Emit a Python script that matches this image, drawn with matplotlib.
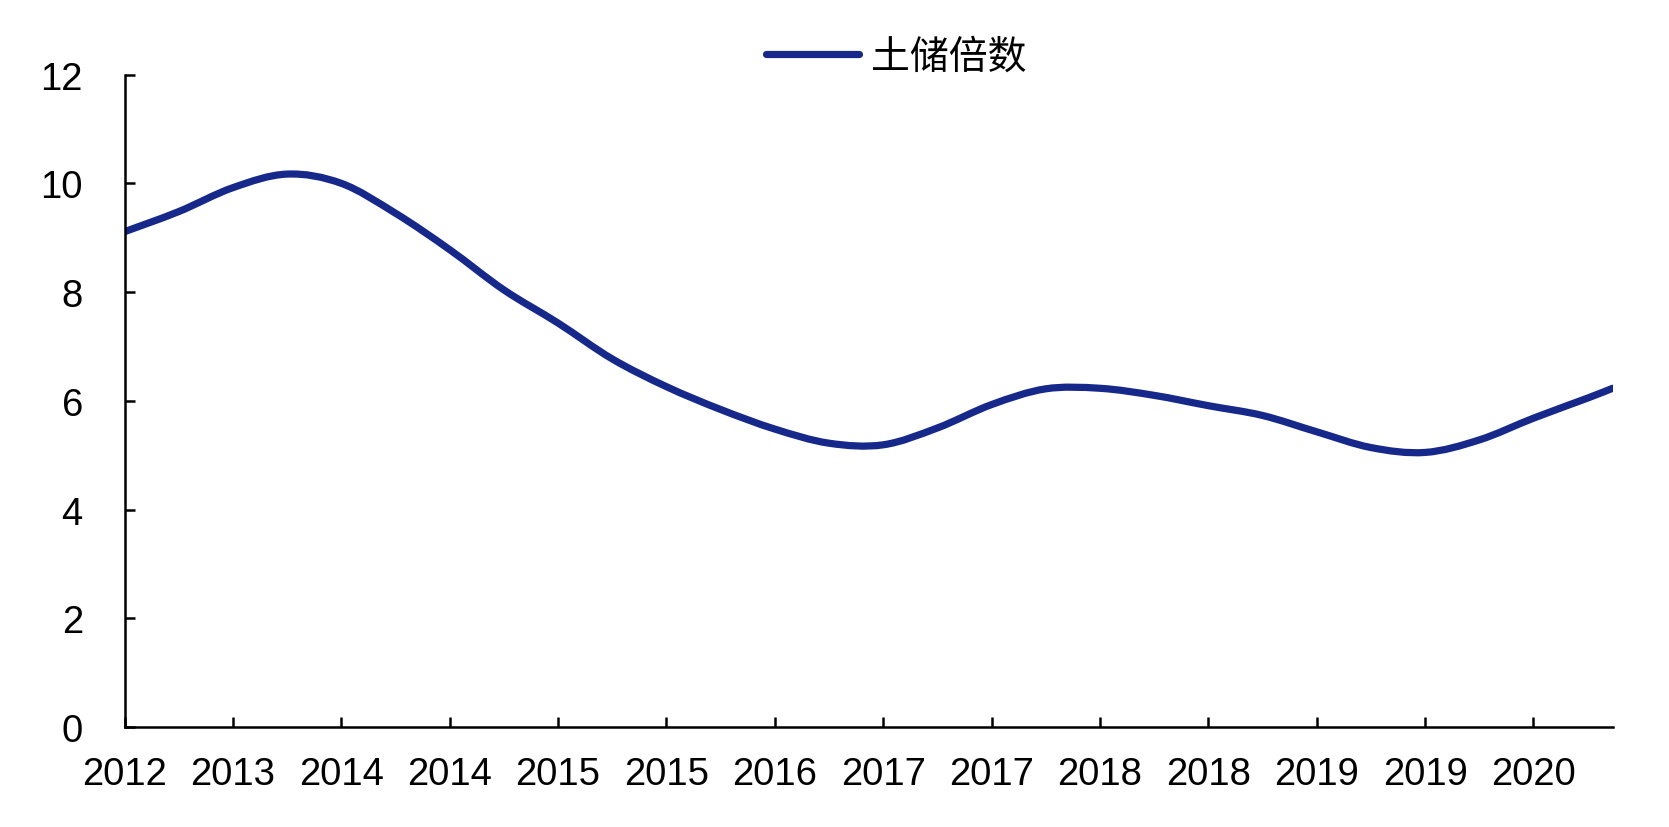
import matplotlib.pyplot as plt
from matplotlib.path import Path
from matplotlib.patches import PathPatch

plt.rcParams['font.family'] = ['Liberation Sans', 'Noto Sans CJK SC', 'DejaVu Sans']

# ── data (x in tick units) ────────────────────────────────────────────
tick_labels = ['2012', '2013', '2014', '2014', '2015', '2015', '2016',
               '2017', '2017', '2018', '2018', '2019', '2019', '2020']
x_pos = [0, 0.5, 1, 1.5, 2, 2.5, 3, 3.5, 4, 4.5, 5, 5.5, 6, 6.5, 7,
         7.5, 8, 8.5, 9, 9.5, 10, 10.5, 11, 11.5, 12, 12.5, 13, 13.5, 13.73]
land_mult = [9.11, 9.48, 9.92, 10.17, 10.00, 9.45, 8.78, 8.04, 7.43, 6.77,
             6.26, 5.84, 5.48, 5.22, 5.19, 5.50, 5.93, 6.22, 6.23, 6.10,
             5.91, 5.73, 5.43, 5.14, 5.05, 5.28, 5.68, 6.05, 6.23]

LINE = '#16298B'
LW = 5.2


def smooth_path(xs, ys):
    # Excel-style smoothed line: bezier segments through every data point
    verts = [(xs[0], ys[0])]
    codes = [Path.MOVETO]
    n = len(xs)
    for i in range(n - 1):
        x0, y0 = (xs[i - 1], ys[i - 1]) if i > 0 else (xs[i], ys[i])
        x1, y1 = xs[i], ys[i]
        x2, y2 = xs[i + 1], ys[i + 1]
        x3, y3 = (xs[i + 2], ys[i + 2]) if i + 2 < n else (x2, y2)
        c1 = (x1 + (x2 - x0) / 6, y1 + (y2 - y0) / 6)
        c2 = (x2 - (x3 - x1) / 6, y2 - (y3 - y1) / 6)
        verts += [c1, c2, (x2, y2)]
        codes += [Path.CURVE4] * 3
    return Path(verts, codes)


fig = plt.figure(figsize=(16.69, 8.28), dpi=100)
ax = fig.add_axes([0.0746, 0.1208, 0.8916, 0.7879])

ax.add_patch(PathPatch(smooth_path(x_pos, land_mult), facecolor='none',
                       edgecolor=LINE, linewidth=LW, capstyle='round',
                       joinstyle='round'))
# empty line only for the legend handle
ax.plot([], [], color=LINE, linewidth=LW, solid_capstyle='round',
        label='土储倍数')

ax.set_xlim(0, 13.73)
ax.set_ylim(0, 12)
ax.set_yticks(range(0, 13, 2))
ax.set_xticks(range(len(tick_labels)))
ax.set_xticklabels(tick_labels)

for s in ['top', 'right']:
    ax.spines[s].set_visible(False)
for s in ['left', 'bottom']:
    ax.spines[s].set_linewidth(1.8)
    ax.spines[s].set_color('black')

ax.tick_params(axis='y', direction='in', length=7, width=1.8,
               labelsize=27.5, pad=30)
ax.tick_params(axis='x', direction='in', length=7, width=1.8,
               labelsize=27.5, pad=21)

fig.legend(loc='center', bbox_to_anchor=(0.537, 0.93), frameon=False,
           prop={'family': ['Noto Sans CJK SC'], 'size': 28},
           handlelength=2.4, handletextpad=0.3)

plt.savefig('out.png', dpi=100)
